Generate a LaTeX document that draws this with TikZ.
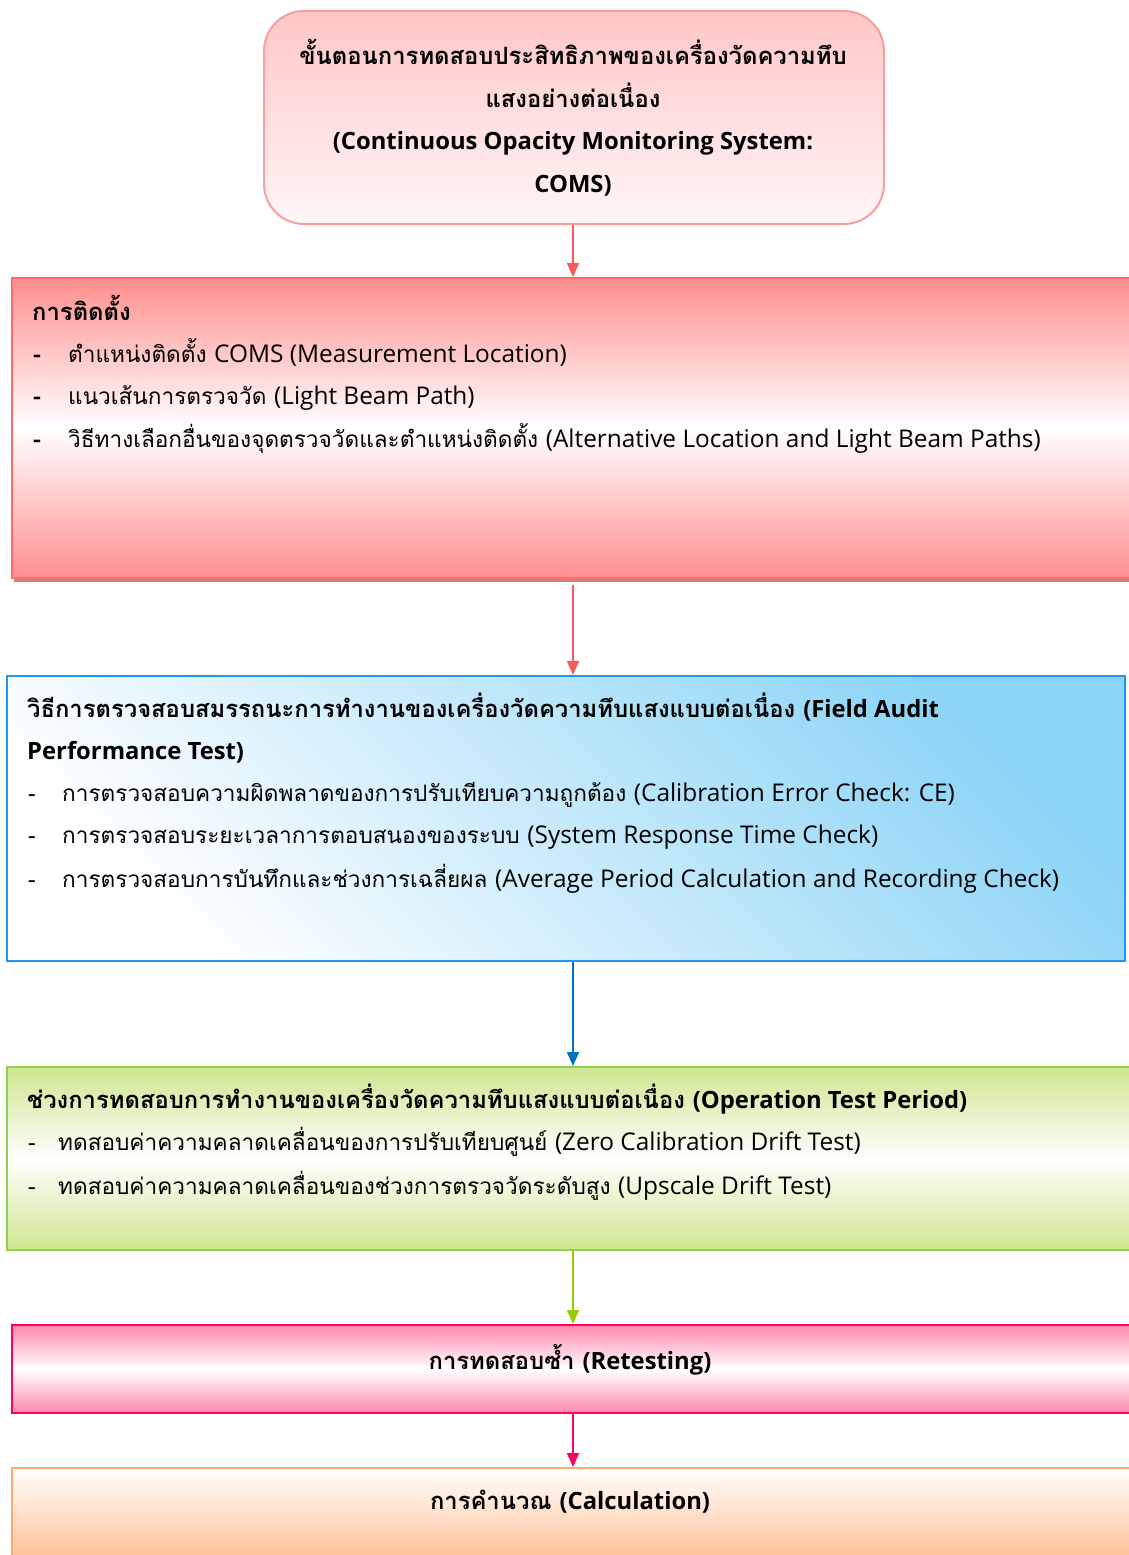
\documentclass[tikz,border=0pt]{standalone}
\usepackage{fontspec}
\setmainfont[Script=Thai]{Loma}
\newfontfamily\enreg[Scale=1.08]{Open Sans}
\newfontfamily\enbold{Open Sans}
\let\enfont\enreg
\newcommand\en[1]{{\enfont #1}}
\usetikzlibrary{arrows.meta}

\definecolor{topFill}{HTML}{FFC6C6}
\definecolor{topFillB}{HTML}{FFF6F6}
\definecolor{topLine}{HTML}{F5A0A0}
\definecolor{instFill}{HTML}{FF8E8E}
\definecolor{instLine}{HTML}{FF6B6B}
\definecolor{instShadow}{HTML}{C48484}
\definecolor{auditFill}{HTML}{8CD4F6}
\definecolor{auditLine}{HTML}{2196F3}
\definecolor{opFill}{HTML}{CEE68F}
\definecolor{opLine}{HTML}{92D050}
\definecolor{reFill}{HTML}{FF88AA}
\definecolor{reLine}{HTML}{FF0066}
\definecolor{calcFill}{HTML}{FFC196}
\definecolor{calcLine}{HTML}{FFA86E}
\definecolor{arrRed}{HTML}{F75A5A}
\definecolor{arrBlue}{HTML}{0070C0}
\definecolor{arrGreen}{HTML}{99CC00}

\begin{document}
\begin{tikzpicture}[x=1pt,y=-1pt,font=\fontsize{22.6}{42}\selectfont]
\useasboundingbox (0,0) rectangle (1129,1555);
\tikzset{
  box/.style={draw, line width=2pt, inner sep=0pt, anchor=north west},
  boldtext/.style={font=\fontsize{23.8}{42.5}\selectfont\bfseries\let\enfont\enbold},
  head/.style={anchor=base west, inner sep=0pt, boldtext},
  item/.style={anchor=base west, inner sep=0pt},
  link/.style={line width=2pt, -{Triangle[length=14pt,width=12pt]}},
}

% title box
\node[box, draw=topLine, rounded corners=40pt, top color=topFill, bottom color=topFillB,
      minimum width=620pt, minimum height=213pt] (title) at (263,10) {};
\node[align=center, inner sep=0pt, boldtext] (titletext) at (573,118)
  {ขั้นตอนการทดสอบประสิทธิภาพของเครื่องวัดความทึบ\\แสงอย่างต่อเนื่อง\\\en{(Continuous Opacity Monitoring System:}\\\en{COMS)}};

% installation box
\fill[instShadow] (14,577) rectangle (1135,582);
\node[box, draw=instLine, top color=instFill, bottom color=instFill, middle color=white,
      minimum width=1124pt, minimum height=300pt] (inst) at (11,277) {};
\node[head] (insth) at (32,320) {การติดตั้ง};
\node[item, boldtext] (instd1) at (33,362) {-};
\node[item, boldtext] (instd2) at (33,404) {-};
\node[item, boldtext] (instd3) at (33,447) {-};
\node[item] (insti1) at (68,362) {ตำแหน่งติดตั้ง \en{COMS (Measurement Location)}};
\node[item] (insti2) at (68,404) {แนวเส้นการตรวจวัด \en{(Light Beam Path)}};
\node[item] (insti3) at (68,447) {วิธีทางเลือกอื่นของจุดตรวจวัดและตำแหน่งติดตั้ง \en{(Alternative Location and Light Beam Paths)}};

% field audit box
\node[box, draw=auditLine, top color=auditFill, bottom color=white, shading angle=-45,
      minimum width=1118pt, minimum height=285pt] (audit) at (6,675) {};
\node[head] (audith1) at (27,717) {วิธีการตรวจสอบสมรรถนะการทำงานของเครื่องวัดความทึบแสงแบบต่อเนื่อง \en{(Field Audit}};
\node[head] (audith2) at (27,759) {\en{Performance Test)}};
\node[item] (auditd1) at (28,801) {-};
\node[item] (auditd2) at (28,843) {-};
\node[item] (auditd3) at (28,887) {-};
\node[item] (auditi1) at (62,801) {การตรวจสอบความผิดพลาดของการปรับเทียบความถูกต้อง \en{(Calibration Error Check: CE)}};
\node[item] (auditi2) at (62,843) {การตรวจสอบระยะเวลาการตอบสนองของระบบ \en{(System Response Time Check)}};
\node[item] (auditi3) at (62,887) {การตรวจสอบการบันทึกและช่วงการเฉลี่ยผล \en{(Average Period Calculation and Recording Check)}};

% operation test period box
\node[box, draw=opLine, top color=opFill, bottom color=opFill, middle color=white,
      minimum width=1129pt, minimum height=183pt] (oper) at (6,1066) {};
\node[head] (operh) at (27,1108) {ช่วงการทดสอบการทำงานของเครื่องวัดความทึบแสงแบบต่อเนื่อง \en{(Operation Test Period)}};
\node[item] (operd1) at (28,1150) {-};
\node[item] (operd2) at (28,1194) {-};
\node[item] (operi1) at (58,1150) {ทดสอบค่าความคลาดเคลื่อนของการปรับเทียบศูนย์ \en{(Zero Calibration Drift Test)}};
\node[item] (operi2) at (58,1194) {ทดสอบค่าความคลาดเคลื่อนของช่วงการตรวจวัดระดับสูง \en{(Upscale Drift Test)}};

% retesting box
\node[box, draw=reLine, top color=reFill, bottom color=reFill, middle color=white,
      minimum width=1124pt, minimum height=88pt] (retest) at (11,1324) {};
\node[inner sep=0pt, boldtext] (retestt) at (570,1360) {การทดสอบซ้ำ \en{(Retesting)}};

% calculation box
\node[box, draw=calcLine, top color=white, bottom color=calcFill,
      minimum width=1124pt, minimum height=90pt] (calc) at (11,1467) {};
\node[inner sep=0pt, boldtext] (calct) at (570,1502) {การคำนวณ \en{(Calculation)}};

% connectors
\draw[link, arrRed] (title.south -| 573,0) -- (inst.north -| 573,0);
\draw[link, arrRed] ([yshift=-6pt]inst.south -| 573,0) -- (audit.north -| 573,0);
\draw[link, arrBlue] (audit.south -| 573,0) -- (oper.north -| 573,0);
\draw[link, arrGreen] (oper.south -| 573,0) -- (retest.north -| 573,0);
\draw[link, reLine] (retest.south -| 573,0) -- (calc.north -| 573,0);
\end{tikzpicture}
\end{document}
